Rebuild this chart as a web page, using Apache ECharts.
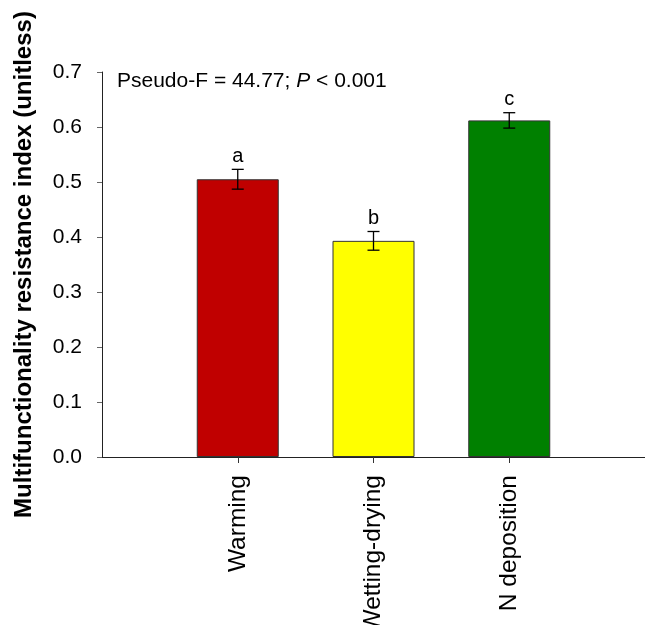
<!DOCTYPE html>
<html>
<head>
<meta charset="utf-8">
<script src="https://cdn.jsdelivr.net/npm/echarts@6/dist/echarts.min.js"></script>
<style>
html,body{margin:0;padding:0;background:#fff;}
#chart{width:645px;height:625px;}
</style>
</head>
<body>
<div id="chart"></div>
<script>
var categories = ['Warming', 'Wetting-drying', 'N deposition'];
var means = [0.505, 0.393, 0.612];
var errors = [0.018, 0.017, 0.014];
var letters = ['a', 'b', 'c'];
var barColors = ['#C00000', '#FFFF00', '#008000'];
var yTicks = [0, 0.1, 0.2, 0.3, 0.4, 0.5, 0.6, 0.7];

var FONT = '"Liberation Sans", Arial, Helvetica, sans-serif';

// category axis padded with empty slots at both ends
var axisCats = [''].concat(categories).concat(['']);
var barData = [null].concat(means.map(function (v, i) {
  return { value: v, itemStyle: { color: barColors[i] } };
})).concat([null]);
var errData = categories.map(function (c, i) {
  return [i + 1, means[i], errors[i], letters[i]];
});

var chart = echarts.init(document.getElementById('chart'), null, { renderer: 'canvas' });
chart.setOption({
  animation: false,
  backgroundColor: '#fff',
  grid: { left: 102, right: 0, top: 72, bottom: 168, containLabel: false, outerBoundsMode: 'none' },
  xAxis: {
    type: 'category',
    data: axisCats,
    boundaryGap: false,
    axisLine: { lineStyle: { color: '#222', width: 1 } },
    axisTick: {
      length: 6,
      lineStyle: { color: '#333' },
      interval: function (idx, val) { return val !== ''; }
    },
    axisLabel: {
      rotate: 90,
      margin: 18,
      interval: function (idx, val) { return val !== ''; },
      fontFamily: FONT,
      fontSize: 24.5,
      color: '#000'
    },
    splitLine: { show: false }
  },
  yAxis: {
    type: 'value',
    min: yTicks[0],
    max: yTicks[yTicks.length - 1],
    interval: 0.1,
    name: 'Multifunctionality resistance index (unitless)',
    nameLocation: 'middle',
    nameGap: 66,
    nameTextStyle: { fontFamily: FONT, fontSize: 24, fontWeight: 'bold', color: '#000' },
    axisLine: { show: true, lineStyle: { color: '#222', width: 1 } },
    axisTick: { show: true, length: 5, lineStyle: { color: '#666' } },
    axisLabel: {
      margin: 20,
      fontFamily: FONT,
      fontSize: 21,
      color: '#000',
      formatter: function (v) { return v.toFixed(1); }
    },
    splitLine: { show: false }
  },
  series: [
    {
      type: 'bar',
      data: barData,
      barWidth: 82,
      itemStyle: { borderColor: '#333', borderWidth: 1 }
    },
    {
      type: 'custom',
      data: errData,
      z: 10,
      renderItem: function (params, api) {
        var x = api.value(0), m = api.value(1), e = api.value(2);
        var top = api.coord([x, m + e]);
        var bot = api.coord([x, m - e]);
        var half = 6;
        var style = { stroke: '#000', lineWidth: 1.3 };
        return {
          type: 'group',
          children: [
            { type: 'line', shape: { x1: top[0], y1: top[1], x2: bot[0], y2: bot[1] }, style: style },
            { type: 'line', shape: { x1: top[0] - half, y1: top[1], x2: top[0] + half, y2: top[1] }, style: style },
            { type: 'line', shape: { x1: bot[0] - half, y1: bot[1], x2: bot[0] + half, y2: bot[1] }, style: style },
            { type: 'text', x: top[0], y: top[1] - 3,
              style: { text: letters[params.dataIndex], fill: '#000', font: '20px ' + FONT,
                       textAlign: 'center', textVerticalAlign: 'bottom' } }
          ]
        };
      }
    }
  ],
  graphic: [
    {
      type: 'text',
      left: 117,
      top: 71,
      style: {
        text: '{n|Pseudo-F = 44.77; }{i|P}{n| < 0.001}',
        rich: {
          n: { fontFamily: FONT, fontSize: 21, fill: '#000' },
          i: { fontFamily: FONT, fontSize: 21, fontStyle: 'italic', fill: '#000' }
        }
      }
    }
  ]
});
</script>
</body>
</html>
